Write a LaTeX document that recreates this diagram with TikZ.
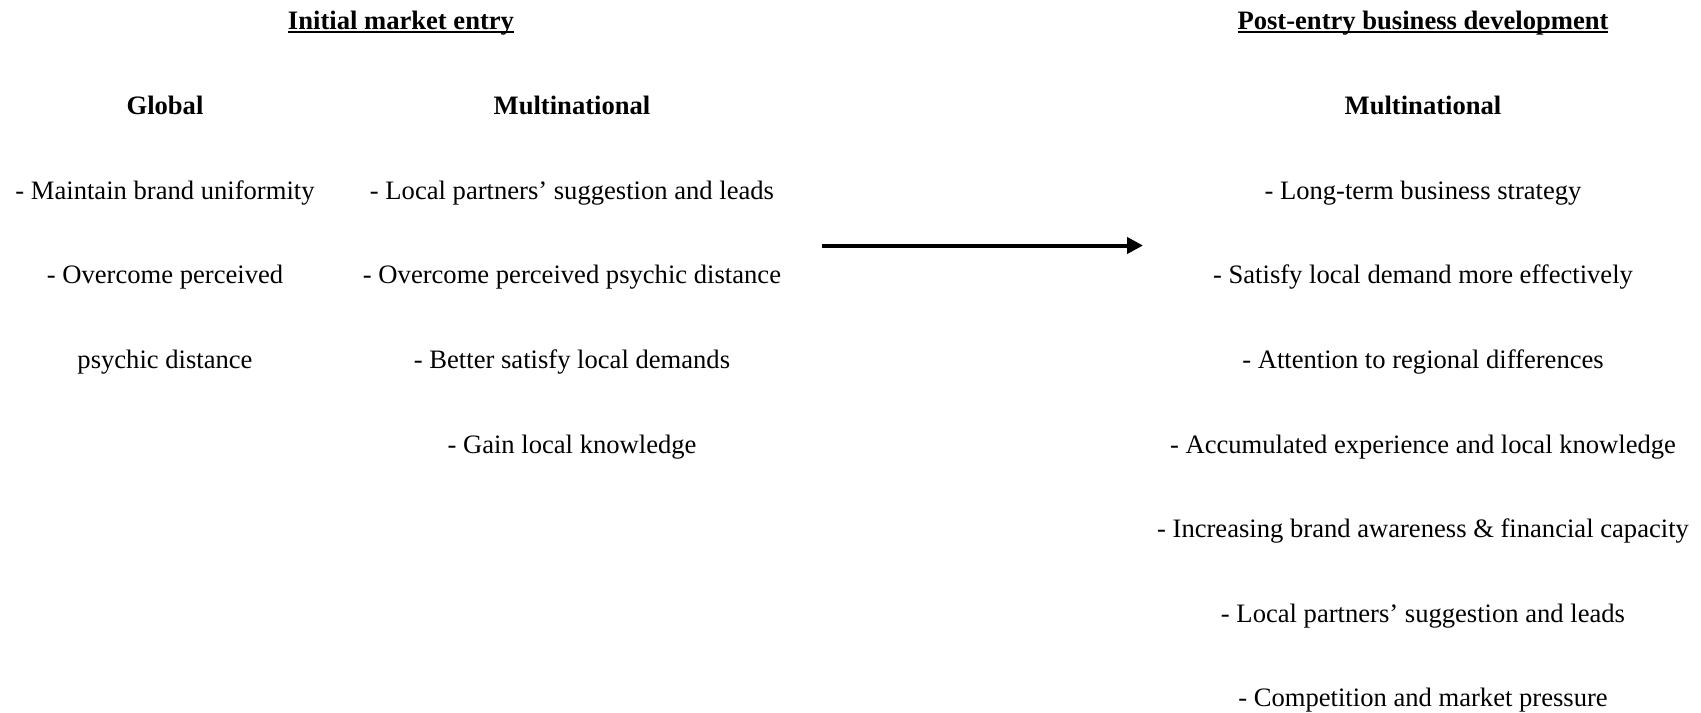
\documentclass[tikz,border=0pt]{standalone}
\usepackage{fontspec}
\setmainfont{Liberation Serif}
\usetikzlibrary{arrows.meta}
\newcommand\myul[1]{\setbox0\hbox{#1}\rlap{\rule[-0.12em]{\wd0}{0.075em}}\box0}
\begin{document}
\begin{tikzpicture}[x=0.5pt,y=-0.5pt,
  txt/.style={inner sep=0pt,font=\fontsize{13.3pt}{16pt}\selectfont,text height=0.68em,text depth=0.2em},
  head/.style={txt,font=\fontsize{13.3pt}{16pt}\selectfont\bfseries},
  flow/.style={line width=2pt,-{Triangle[length=8pt,width=8pt]}}]
\useasboundingbox (0,0) rectangle (1701,712);
% titles
\node[head] (t1) at (401,25) {\myul{Initial market entry}};
\node[head] (t2) at (1423,25) {\myul{Post-entry business development}};
% column headings
\node[head] (g) at (165,109.5) {Global};
\node[head] (m1) at (572,109.5) {Multinational};
\node[head] (m2) at (1423,109.5) {Multinational};
% Global column
\node[txt] (g1) at (165,194.5) {- Maintain brand uniformity};
\node[txt] (g2) at (165,279) {- Overcome perceived};
\node[txt] (g3) at (165,363.5) {psychic distance};
% Multinational (entry) column
\node[txt] (l1) at (572,194.5) {- Local partners’ suggestion and leads};
\node[txt] (l2) at (572,279) {- Overcome perceived psychic distance};
\node[txt] (l3) at (572,363.5) {- Better satisfy local demands};
\node[txt] (l4) at (572,448.5) {- Gain local knowledge};
% Post-entry column
\node[txt] (r1) at (1423,194.5) {- Long-term business strategy};
\node[txt] (r2) at (1423,279) {- Satisfy local demand more effectively};
\node[txt] (r3) at (1423,363.5) {- Attention to regional differences};
\node[txt] (r4) at (1423,448.5) {- Accumulated experience and local knowledge};
\node[txt] (r5) at (1423,532.5) {- Increasing brand awareness \& financial capacity};
\node[txt] (r6) at (1423,617.5) {- Local partners’ suggestion and leads};
\node[txt] (r7) at (1423,702) {- Competition and market pressure};
% arrow
\coordinate (a1) at (822,245.5);
\coordinate (a2) at (1143,245.5);
\draw[flow] (a1) -- (a2);
\end{tikzpicture}
\end{document}
